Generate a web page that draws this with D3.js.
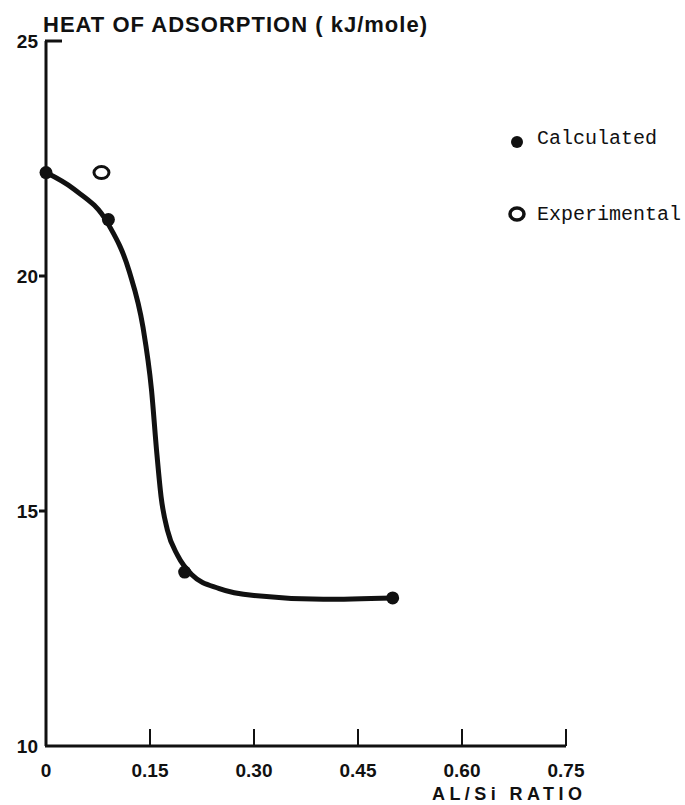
<!DOCTYPE html>
<html>
<head>
<meta charset="utf-8">
<script src="https://cdn.jsdelivr.net/npm/d3@7"></script>
<style>
  body { margin: 0; background: #fff; }
  svg { display: block; }
</style>
</head>
<body>
<svg id="chart"></svg>
<script>
// values
var calcX = [0, 0.09, 0.2, 0.5];
var calcY = [22.2, 21.2, 13.7, 13.15];
var expX = [0.08];
var expY = [22.2];
// hand-drawn smooth curve through the calculated points
var curveX = [0, 0.04, 0.09, 0.12, 0.14, 0.152, 0.16, 0.166, 0.175, 0.19, 0.21, 0.25, 0.3, 0.4, 0.5];
var curveY = [22.2, 21.85, 21.1, 20.1, 18.9, 17.6, 16.2, 15.3, 14.6, 14.05, 13.65, 13.35, 13.2, 13.12, 13.15];
var xTicks = [0, 0.15, 0.30, 0.45, 0.60, 0.75];
var xTickLabels = ["0", "0.15", "0.30", "0.45", "0.60", "0.75"];
var yTicks = [10, 15, 20, 25];

var width = 685, height = 805;
var svg = d3.select("#chart").attr("width", width).attr("height", height);

var x = d3.scaleLinear().domain([0, 0.75]).range([46, 566]);
var y = d3.scaleLinear().domain([10, 25]).range([746, 41]);

var ink = "#111";
var lab = "'Liberation Sans', Arial, sans-serif";

// axes
svg.append("line").attr("x1", x(0)).attr("x2", x(0)).attr("y1", y(25)).attr("y2", y(10))
    .style("stroke", ink).style("stroke-width", 3);
svg.append("line").attr("x1", x(0) - 1).attr("x2", x(0.75)).attr("y1", y(10)).attr("y2", y(10))
    .style("stroke", ink).style("stroke-width", 3);

// x ticks point up into the plot
svg.selectAll(".xt").data(xTicks.slice(1)).enter().append("line")
    .attr("x1", function (d) { return x(d); }).attr("x2", function (d) { return x(d); })
    .attr("y1", y(10)).attr("y2", y(10) - 17)
    .style("stroke", ink).style("stroke-width", 2);

svg.selectAll(".xl").data(xTicks).enter().append("text")
    .attr("x", function (d) { return x(d); })
    .attr("y", y(10) + 31)
    .attr("text-anchor", "middle")
    .style("font-family", lab).style("font-size", "19px").style("font-weight", "bold").style("fill", ink)
    .text(function (d, i) { return xTickLabels[i]; });

// y ticks: top one runs right, others stick out left
svg.selectAll(".yt").data(yTicks.slice(1)).enter().append("line")
    .attr("x1", function (d) { return d === 25 ? x(0) - 1 : x(0) - 7; })
    .attr("x2", function (d) { return d === 25 ? x(0) + 16 : x(0); })
    .attr("y1", function (d) { return y(d); }).attr("y2", function (d) { return y(d); })
    .style("stroke", ink).style("stroke-width", 3);

svg.selectAll(".yl").data(yTicks).enter().append("text")
    .attr("x", x(0) - 8)
    .attr("y", function (d) { return y(d) + 7; })
    .attr("text-anchor", "end")
    .style("font-family", lab).style("font-size", "19px").style("font-weight", "bold").style("fill", ink)
    .text(function (d) { return d; });

// titles
svg.append("text").attr("x", 43).attr("y", 32).attr("textLength", 384)
    .style("font-family", lab).style("font-size", "22px").style("font-weight", "bold").style("fill", ink)
    .text("HEAT OF ADSORPTION ( kJ/mole)");
svg.append("text").attr("x", 432).attr("y", 800).attr("textLength", 150)
    .style("font-family", lab).style("font-size", "18px").style("font-weight", "bold").style("fill", ink)
    .text("AL/Si RATIO");

// fitted curve
var line = d3.line()
    .x(function (d) { return x(d[0]); })
    .y(function (d) { return y(d[1]); })
    .curve(d3.curveMonotoneX);
svg.append("path").datum(d3.zip(curveX, curveY))
    .attr("d", line)
    .style("fill", "none").style("stroke", ink).style("stroke-width", 5)
    .style("stroke-linecap", "round");

// markers
svg.selectAll(".calc").data(d3.zip(calcX, calcY)).enter().append("circle")
    .attr("cx", function (d) { return x(d[0]); })
    .attr("cy", function (d) { return y(d[1]); })
    .attr("r", 6.5).style("fill", ink);

svg.selectAll(".exp").data(d3.zip(expX, expY)).enter().append("ellipse")
    .attr("cx", function (d) { return x(d[0]); })
    .attr("cy", function (d) { return y(d[1]); })
    .attr("rx", 7.5).attr("ry", 6)
    .style("fill", "none").style("stroke", ink).style("stroke-width", 3);

// legend
var mono = "'Liberation Mono', 'Courier New', monospace";
svg.append("circle").attr("cx", 517).attr("cy", 142).attr("r", 6).style("fill", ink);
svg.append("text").attr("x", 537).attr("y", 144)
    .style("font-family", mono).style("font-size", "20px").style("fill", ink)
    .text("Calculated");
svg.append("ellipse").attr("cx", 517).attr("cy", 214).attr("rx", 7).attr("ry", 6)
    .style("fill", "none").style("stroke", ink).style("stroke-width", 3.5);
svg.append("text").attr("x", 537).attr("y", 220)
    .style("font-family", mono).style("font-size", "20px").style("fill", ink)
    .text("Experimental");
</script>
</body>
</html>
